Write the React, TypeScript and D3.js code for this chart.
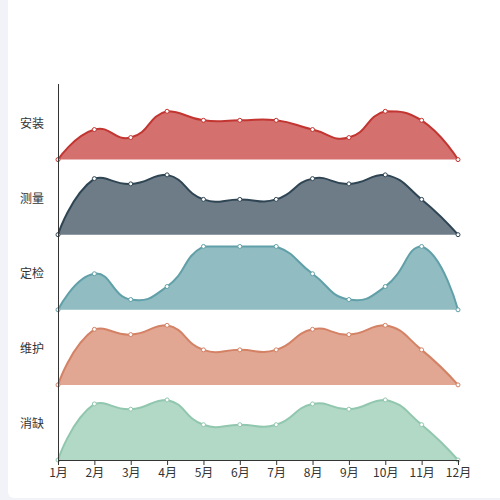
import { useEffect, useRef } from "react";
import * as d3 from "d3";

const months = ["1月", "2月", "3月", "4月", "5月", "6月", "7月", "8月", "9月", "10月", "11月", "12月"];
const seriesNames = ["安装", "测量", "定检", "维护", "消缺"];
const colors = ["#c23531", "#2f4554", "#61a0a8", "#d48265", "#91c7ae"];

const anzhuang = [0, 12, 8.8, 19.3, 15.7, 15.7, 15.7, 12, 8.8, 19.3, 15.7, 0];
const celiang = [0, 22.4, 20.3, 23.9, 14.1, 14.1, 14.1, 22.4, 20.3, 23.9, 14.1, 0];
const dingjian = [0, 14.4, 4.1, 9.3, 25.3, 25.3, 25.3, 14.4, 4.1, 9.3, 25.3, 0];
const weihu = [0, 22.2, 20.1, 23.8, 14.0, 14.0, 14.0, 22.2, 20.1, 23.8, 14.0, 0];
const xiaoque = [0, 22.4, 20.3, 24.0, 14.1, 14.1, 14.1, 22.4, 20.3, 24.0, 14.1, 0];

const seriesValues = [anzhuang, celiang, dingjian, weihu, xiaoque];

const FONT = "'Noto Sans CJK SC', 'Noto Sans', sans-serif";

// echarts-4 style smooth line: control points only kept inside the points' bounding box
function smoothLine(pts: [number, number][], smooth = 0.5) {
  const minX = d3.min(pts, d => d[0]) ?? 0;
  const maxX = d3.max(pts, d => d[0]) ?? 0;
  const minY = d3.min(pts, d => d[1]) ?? 0;
  const maxY = d3.max(pts, d => d[1]) ?? 0;
  const clamp = (c: [number, number]): [number, number] => [
    Math.max(minX, Math.min(maxX, c[0])),
    Math.max(minY, Math.min(maxY, c[1])),
  ];

  const p = d3.path();
  let cp0: [number, number] = pts[0];
  p.moveTo(pts[0][0], pts[0][1]);
  for (let i = 1; i < pts.length; i++) {
    const pt = pts[i];
    const prev = pts[i - 1];
    const next = pts[i + 1];
    let cp1: [number, number] = [pt[0], pt[1]];
    let vx = 0, vy = 0, ratio = 0.5;
    if (next) {
      vx = next[0] - prev[0];
      vy = next[1] - prev[1];
      const lenPrev = Math.hypot(pt[0] - prev[0], pt[1] - prev[1]);
      const lenNext = Math.hypot(next[0] - pt[0], next[1] - pt[1]);
      ratio = lenNext / (lenNext + lenPrev);
      cp1 = [pt[0] - vx * smooth * (1 - ratio), pt[1] - vy * smooth * (1 - ratio)];
    }
    const c0 = clamp(cp0);
    const c1 = clamp(cp1);
    p.bezierCurveTo(c0[0], c0[1], c1[0], c1[1], pt[0], pt[1]);
    cp0 = [pt[0] + vx * smooth * ratio, pt[1] + vy * smooth * ratio];
  }
  return p.toString();
}

function Chart() {
  const svgRef = useRef<SVGSVGElement>(null);

  useEffect(() => {
    if (!svgRef.current) return;
    const svg = d3.select(svgRef.current);
    svg.selectAll("*").remove();

    const width = 500;
    const height = 500;

    // page background + card
    svg.append("rect").attr("width", width).attr("height", height).attr("fill", "#f2f3f8");
    svg.append("rect")
      .attr("x", 8).attr("y", -6)
      .attr("width", 500).attr("height", 504)
      .attr("rx", 6)
      .attr("fill", "#fff");

    const xScale = d3.scalePoint<string>().domain(months).range([58, 458]);
    const band = d3.scaleBand<string>().domain(seriesNames).range([84.5, 460]);
    const hScale = d3.scaleLinear().domain([0, 30]).range([0, band.bandwidth()]);

    const g = svg.append("g");

    seriesNames.forEach((name, si) => {
      const base = (band(name) ?? 0) + band.bandwidth();
      const vals = seriesValues[si];
      const pts: [number, number][] = vals.map((v, i) => [xScale(months[i]) ?? 0, base - hScale(v)]);
      const top = smoothLine(pts);
      const areaPath = top + `L${pts[pts.length - 1][0]},${base}L${pts[0][0]},${base}Z`;

      g.append("path")
        .attr("d", areaPath)
        .attr("fill", colors[si])
        .attr("fill-opacity", 0.7);

      g.append("path")
        .attr("d", top)
        .attr("fill", "none")
        .attr("stroke", colors[si])
        .attr("stroke-width", 2)
        .attr("stroke-linejoin", "round");

      g.selectAll(null)
        .data(pts)
        .enter()
        .append("circle")
        .attr("cx", d => d[0])
        .attr("cy", d => d[1])
        .attr("r", 2)
        .attr("fill", "#fff")
        .attr("stroke", colors[si])
        .attr("stroke-width", 1);

      svg.append("text")
        .attr("x", 44)
        .attr("y", (band(name) ?? 0) + band.bandwidth() / 2)
        .attr("text-anchor", "end")
        .attr("dominant-baseline", "central")
        .attr("font-family", FONT)
        .attr("font-size", 12)
        .attr("fill", "#333")
        .text(name);
    });

    // left axis line
    svg.append("line")
      .attr("x1", 58.5).attr("x2", 58.5)
      .attr("y1", 84).attr("y2", 460)
      .attr("stroke", "#333");

    // bottom axis
    const axis = svg.append("g")
      .attr("transform", "translate(0,460)")
      .call(d3.axisBottom(xScale).tickSize(5).tickSizeOuter(0).tickPadding(3));
    axis.select(".domain").attr("stroke", "#333");
    axis.selectAll(".tick line").attr("stroke", "#333");
    axis.selectAll(".tick text")
      .attr("font-family", FONT)
      .attr("font-size", 12)
      .attr("fill", "#333");
  }, []);

  return <svg ref={svgRef} width={500} height={500} style={{ display: "block" }}></svg>;
}

export default function App() {
  return (
    <div style={{ position: "fixed", left: 0, top: 0, width: 500, height: 500 }}>
      <Chart />
    </div>
  );
}
